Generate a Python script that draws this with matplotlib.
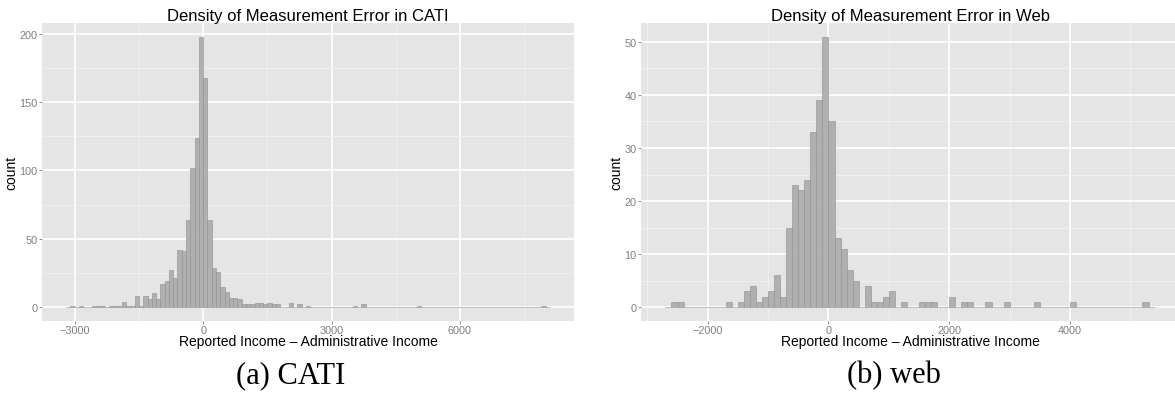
import numpy as np
import matplotlib
matplotlib.use("Agg")
import matplotlib.pyplot as plt
from matplotlib.ticker import MultipleLocator, FuncFormatter

# Histogram counts of (reported - administrative) income, bins of width 100
BIN_WIDTH = 100

cati_first_bin = -3200
cati_counts = [
    0, 1, 0, 1, 0, 0, 1, 1, 1, 0,          # -3200 .. -2300
    1, 1, 1, 4, 1, 1, 8, 1, 8, 6,          # -2200 .. -1300
    10, 6, 17, 19, 27, 21, 42, 41, 64, 102, # -1200 .. -300
    124, 198, 168, 64, 29, 26, 15, 11, 7, 7, # -200 .. 700
    6, 2, 2, 2, 3, 3, 2, 3, 2, 2,          # 800 .. 1700
    0, 0, 3, 0, 2, 0, 1, 0, 0, 0,          # 1800 .. 2700
    0, 0, 0, 0, 0, 0, 0, 1, 0, 2,          # 2800 .. 3700
    0, 0, 0, 0, 0, 0, 0, 0, 0, 0,          # 3800 .. 4700
    0, 0, 1, 0, 0, 0, 0, 0, 0, 0,          # 4800 .. 5700
    0, 0, 0, 0, 0, 0, 0, 0, 0, 0,          # 5800 .. 6700
    0, 0, 0, 0, 0, 0, 0, 0, 0, 0,          # 6800 .. 7700
    0, 1, 0,                               # 7800 .. 8000
]

web_first_bin = -2700
web_counts = [
    0, 1, 1, 0, 0, 0, 0, 0, 0, 0,          # -2700 .. -1800
    1, 0, 1, 3, 4, 1, 2, 3, 6, 2,          # -1700 .. -800
    15, 23, 22, 24, 33, 39, 51, 35, 13, 11, # -700 .. 200
    7, 5, 0, 4, 1, 1, 2, 3, 0, 1,          # 300 .. 1200
    0, 0, 1, 1, 1, 0, 0, 2, 0, 1,          # 1300 .. 2200
    1, 0, 0, 1, 0, 0, 1, 0, 0, 0,          # 2300 .. 3200
    0, 1, 0, 0, 0, 0, 0, 1, 0, 0,          # 3300 .. 4200
    0, 0, 0, 0, 0, 0, 0, 0, 0, 1,          # 4300 .. 5200
    0,                                     # 5300
]

titles = ["Density of Measurement Error in CATI",
          "Density of Measurement Error in Web"]
captions = ["(a) CATI", "(b) web"]
x_label = "Reported Income \u2013 Administrative Income"
y_label = "count"

BG = "#e5e5e5"
GRID_MINOR = "#f2f2f2"
TICK_GREY = "#7f7f7f"
BAR_FILL = "#b0b0b0"
BAR_EDGE = "#8e8e8e"

plt.rcParams["font.family"] = ["Liberation Sans", "DejaVu Sans"]

W, H = 1175, 402
fig = plt.figure(figsize=(W / 100, H / 100), dpi=100)


def px_axes(x0, x1, y0, y1):
    return fig.add_axes([x0 / W, 1 - y1 / H, (x1 - x0) / W, (y1 - y0) / H])


def minus_fmt(v, _):
    s = f"{int(round(v))}"
    return s.replace("-", "\u2212")


def draw_hist(ax, first_bin, counts, title, major_x, major_y, ylab_x):
    counts = np.asarray(counts, dtype=float)
    lefts = first_bin + BIN_WIDTH * np.arange(len(counts))
    ax.set_facecolor(BG)
    ax.bar(lefts, counts, width=BIN_WIDTH, align="edge",
           facecolor=BAR_FILL, edgecolor=BAR_EDGE, linewidth=0.4, zorder=3)

    lo, hi = lefts[0], lefts[-1] + BIN_WIDTH
    pad = 0.05 * (hi - lo)
    ax.set_xlim(lo - pad, hi + pad)
    top = counts.max()
    ax.set_ylim(-0.05 * top, 1.05 * top)

    ax.xaxis.set_major_locator(MultipleLocator(major_x))
    ax.xaxis.set_minor_locator(MultipleLocator(major_x / 2))
    ax.yaxis.set_major_locator(MultipleLocator(major_y))
    ax.yaxis.set_minor_locator(MultipleLocator(major_y / 2))
    ax.xaxis.set_major_formatter(FuncFormatter(minus_fmt))
    ax.yaxis.set_major_formatter(FuncFormatter(minus_fmt))

    ax.grid(which="major", color="white", linewidth=1.2, zorder=1)
    ax.grid(which="minor", color=GRID_MINOR, linewidth=0.6, zorder=0)
    ax.set_axisbelow(True)
    for s in ax.spines.values():
        s.set_visible(False)
    ax.tick_params(which="major", length=2.2, width=0.6, color=TICK_GREY,
                   labelcolor=TICK_GREY, labelsize=7.8, pad=1.0)
    ax.tick_params(which="minor", length=0)

    ax.set_title(title, fontsize=12, pad=2.5, color="black")
    ax.set_xlabel(x_label, fontsize=10, color="black")
    ax.xaxis.set_label_coords(0.5, -0.046)
    ax.set_ylabel(y_label, fontsize=10, color="black")
    ax.yaxis.set_label_coords(ylab_x, 0.5)


ax1 = px_axes(42, 574, 24, 321.7)
draw_hist(ax1, cati_first_bin, cati_counts, titles[0], 3000, 50, -0.044)

ax2 = px_axes(641, 1179, 24, 321.7)
draw_hist(ax2, web_first_bin, web_counts, titles[1], 2000, 10, -0.032)

for cx, text in zip([291, 894], captions):
    fig.text(cx / W, 1 - 376 / H, text, ha="center", va="center",
             fontsize=22, family=["Liberation Serif", "DejaVu Serif"])

fig.savefig("out.png", dpi=100)
